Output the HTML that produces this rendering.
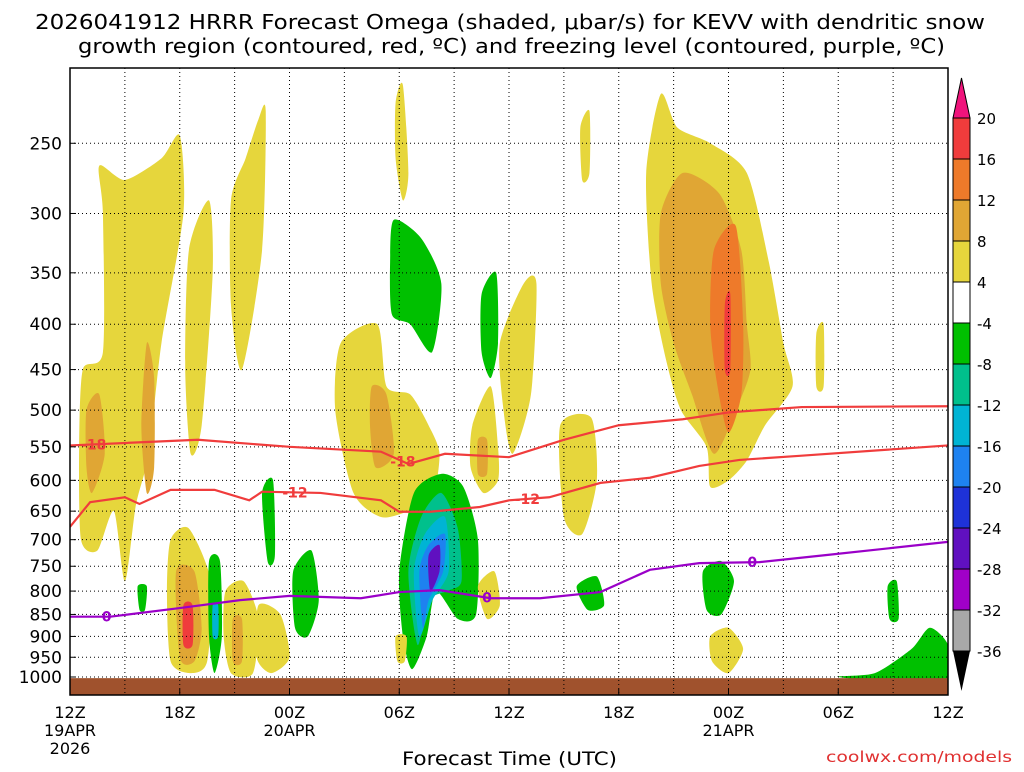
<!DOCTYPE html>
<html><head><meta charset="utf-8">
<style>
body{margin:0;background:#fff;width:1024px;height:768px;overflow:hidden;font-family:"DejaVu Sans",sans-serif}
svg text{font-family:"DejaVu Sans","Liberation Sans",sans-serif;fill:#000}
</style></head>
<body>
<svg id="chart" width="1024" height="768" xmlns="http://www.w3.org/2000/svg">
<text x="35" y="29" font-size="20" textLength="950" lengthAdjust="spacingAndGlyphs">2026041912 HRRR Forecast Omega (shaded, μbar/s) for KEVV with dendritic snow</text>
<text x="78" y="53" font-size="20" textLength="867" lengthAdjust="spacingAndGlyphs">growth region (contoured, red, ºC) and freezing level (contoured, purple, ºC)</text>
<g id="shapes"></g>
<g id="grid"></g>
<g id="lines"></g>
<g id="axes"></g>
<g id="cbar"></g>
<text x="402" y="765" font-size="19" textLength="215" lengthAdjust="spacingAndGlyphs">Forecast Time (UTC)</text>
<text x="826" y="762" font-size="15" textLength="186" lengthAdjust="spacingAndGlyphs" style="fill:#e03030">coolwx.com/models</text>
</svg>
<script>
const pLevels=[250,300,350,400,450,500,550,600,650,700,750,800,850,900,950,1000];
const xTickHours=[0,6,12,18,24,30,36,42,48];
const xTickLabels=["12Z","18Z","00Z","06Z","12Z","18Z","00Z","06Z","12Z"];
const xSubLabels=[[0,"19APR"],[0,"2026"],[12,"20APR"],[36,"21APR"]];
const cbLevels=[20,16,12,8,4,-4,-8,-12,-16,-20,-24,-28,-32,-36];
const cbColors=["#f03c3c","#ee7a2a","#e0a634","#e6d63c","#ffffff","#00c000","#00c08c","#00b4d4","#1e82f0","#1e32d8","#6010c0","#a000c8","#a8a8a8"];
const levelColor={y:"#e6d63c",o:"#e0a634",d:"#ee7a2a",r:"#f03c3c",g:"#00c000",t:"#00c08c",c:"#00b4d4",b:"#1e82f0",k:"#1e32d8",p:"#6010c0"};
const blobLevels=["y","o","o","y","y","y","o","r","y","o","g","c","g","g","g","y","y","o","y","g","g","t","c","b","p","y","y","o","g","y","y","y","y","g","y","o","d","r","y","g","y","g","g"];
const blobPts=[
[[1.6,265],[3,275],[5,260],[6,245],[6.2,300],[5,420],[4.3,560],[3.6,640],[3,780],[2.4,650],[1.5,720],[0.6,700],[0.5,550],[0.7,450],[1.8,430],[1.8,300]],
[[0.9,500],[1.6,480],[1.9,560],[1.2,620],[0.9,580]],
[[4.2,420],[4.6,460],[4.6,580],[4.2,620],[3.9,520]],
[[6.5,330],[7.6,290],[7.8,350],[7.2,520],[6.6,560],[6.3,450]],
[[8.8,290],[9.6,260],[10.3,235],[10.7,230],[10.5,330],[9.4,450],[8.8,380]],
[[5.5,700],[6.5,680],[7.7,780],[7.5,960],[6.6,990],[5.5,960],[5.3,800]],
[[5.8,760],[6.8,760],[7.2,880],[6.8,960],[6,950]],
[[6.2,830],[6.7,830],[6.7,920],[6.2,920]],
[[8.5,800],[9.5,780],[10.3,860],[10,990],[8.8,990],[8.4,900]],
[[8.9,860],[9.4,860],[9.4,960],[8.9,960]],
[[7.6,740],[8.2,740],[8.3,900],[7.9,990],[7.6,900]],
[[7.8,830],[8.1,830],[8.1,900],[7.8,900]],
[[3.7,790],[4.2,790],[4.1,840],[3.8,840]],
[[10.5,620],[11.1,600],[11.2,730],[10.8,740]],
[[12.2,760],[13.2,720],[13.6,820],[13,900],[12.3,880]],
[[10.3,830],[11.5,850],[12,950],[11,990],[10.2,950]],
[[14.8,420],[16.8,400],[17.3,470],[18.6,480],[19.6,520],[20.2,560],[19.8,630],[18.5,650],[17,660],[15.5,620],[14.5,500]],
[[16.5,470],[17.3,480],[17.7,560],[16.7,580],[16.4,520]],
[[17.8,225],[18.2,215],[18.5,270],[18.2,290],[17.8,260]],
[[17.7,305],[19.2,320],[20.3,360],[19.8,430],[18.6,400],[17.6,390],[17.5,340]],
[[18,760],[18.8,620],[20.3,590],[21.5,610],[22.3,700],[22.2,850],[21.2,860],[20,800],[19.5,900],[18.7,980],[18.2,900]],
[[18.5,760],[19.2,660],[20.3,620],[21.2,680],[21.4,780],[20.6,800],[19.6,820],[19,920]],
[[18.8,760],[19.4,690],[20.5,660],[20.7,760],[19.8,820],[19.1,900]],
[[19.1,760],[19.6,710],[20.5,690],[20.4,760],[19.6,820],[19.3,880]],
[[19.6,730],[20.2,710],[20.2,760],[19.7,800]],
[[17.8,900],[18.4,900],[18.3,960],[17.9,960]],
[[22,520],[23,470],[23.4,550],[23.4,600],[22.6,620],[21.9,580]],
[[22.3,540],[22.8,540],[22.8,590],[22.3,590]],
[[22.5,370],[23.3,350],[23.4,420],[23,460],[22.5,430]],
[[23.5,420],[24.8,360],[25.5,360],[25.2,480],[24.2,560],[23.7,500]],
[[22.3,790],[23.2,760],[23.5,830],[22.8,860]],
[[26.8,520],[28.5,510],[28.8,600],[28,690],[27,660]],
[[27.9,240],[28.4,230],[28.4,270],[28,275]],
[[27.7,790],[28.8,770],[29.2,830],[28.3,840]],
[[31.5,270],[32.3,220],[33.2,240],[35,250],[37,270],[38.2,340],[39,420],[39.5,470],[38,520],[37,570],[36,600],[35,610],[34.8,550],[33.4,500],[32.6,440],[31.8,360]],
[[32.3,300],[33.5,270],[35.5,285],[36.7,330],[37,400],[37.2,450],[36.4,500],[35.2,560],[34,480],[33,420],[32.3,360]],
[[35.2,330],[36.4,310],[36.8,400],[36.7,480],[36,530],[35.4,470],[35,400]],
[[35.8,380],[36.1,370],[36.1,450],[35.8,450]],
[[40.8,410],[41.2,400],[41.2,470],[40.8,470]],
[[34.6,760],[35.6,740],[36.3,780],[35.6,850],[34.8,840]],
[[35,900],[36,880],[36.8,930],[36,990],[35.1,960]],
[[44.7,790],[45.2,780],[45.3,860],[44.8,860]],
[[42,1000],[44,990],[46,930],[47,880],[48,920],[48,1010],[46.5,1020]]
];
const m18Hours=[0,7,12,17,18.5,20.5,24,27,30,33.5,36,40,48];
const m18P=[548,540,550,557,575,560,565,540,520,512,503,496,495];
const m12Hours=[0,1.1,3,3.8,5.5,7.9,9.8,10.5,13.7,17,18,19.7,22.4,24,26.2,29,31.7,34.4,36.6,39.9,48];
const m12P=[677,635,627,638,615,615,632,618,620,632,651,651,643,632,627,604,596,578,569,563,548];
const zHours=[0,2.2,6,9.3,12,15.9,18,20.2,23,25.7,29,31.7,34.4,37.7,41.5,48];
const zP=[855,855,836,819,810,815,802,798,815,815,802,757,744,742,728,704];

const L=70,R=948,T=68,B=695;
const xs=h=>L+h*(R-L)/48;
const ys=p=>677+385*Math.log(p/1000);
const NS="http://www.w3.org/2000/svg";
function mk(tag,parent,attrs){const e=document.createElementNS(NS,tag);for(const k in attrs)e.setAttribute(k,attrs[k]);parent.appendChild(e);return e;}
const gS=document.getElementById('shapes'),gG=document.getElementById('grid'),gL=document.getElementById('lines'),gA=document.getElementById('axes'),gC=document.getElementById('cbar');
const clip=mk('clipPath',document.getElementById('chart'),{id:'pc'});
mk('rect',clip,{x:L,y:T,width:R-L,height:B-T});
gS.setAttribute('clip-path','url(#pc)');gL.setAttribute('clip-path','url(#pc)');
function smooth(pts){let d="";const n=pts.length;for(let i=0;i<n;i++){const p0=pts[(i-1+n)%n],p1=pts[i],p2=pts[(i+1)%n],p3=pts[(i+2)%n];if(i==0)d+="M"+p1[0]+","+p1[1];const c1=[p1[0]+(p2[0]-p0[0])/8,p1[1]+(p2[1]-p0[1])/8],c2=[p2[0]-(p3[0]-p1[0])/8,p2[1]-(p3[1]-p1[1])/8];d+="C"+c1+" "+c2+" "+p2[0]+","+p2[1];}return d+"Z";}
blobPts.forEach((pts,i)=>{
 const el=mk('path',gS,{d:smooth(pts.map(q=>[xs(q[0]),ys(q[1])])),fill:levelColor[blobLevels[i]]});
 
 
});
const ground=mk('rect',gS,{x:L,y:ys(1003),width:R-L,height:B-ys(1003),fill:'#a0522d'});


pLevels.forEach(p=>{
 const ln=mk('line',gG,{x1:L,x2:R,y1:ys(p),y2:ys(p),stroke:'#000','stroke-width':1,'stroke-dasharray':'1,3'});
 
 
 const t=mk('text',gA,{x:62,y:ys(p)+6,'font-size':17,'text-anchor':'end'});t.textContent=p;
 
 
 mk('line',gA,{x1:L,x2:L+6,y1:ys(p),y2:ys(p),stroke:'#000'});
});
for(let h=3;h<48;h+=3){const ln=mk('line',gG,{x1:xs(h),x2:xs(h),y1:T,y2:B,stroke:'#000','stroke-dasharray':'1,3'});
 
 }
xTickHours.forEach((h,i)=>{
 const t=mk('text',gA,{x:xs(h),y:718,'font-size':16,'text-anchor':'middle'});t.textContent=xTickLabels[i];
 
 
 mk('line',gA,{x1:xs(h),x2:xs(h),y1:B,y2:B-6,stroke:'#000'});
});
xSubLabels.forEach((s,i)=>{const t=mk('text',gA,{x:xs(s[0]),y:i==1?754:736,'font-size':16,'text-anchor':'middle'});t.textContent=s[1];
 
 });
const frame=mk('rect',gA,{x:L,y:T,width:R-L,height:B-T,fill:'none',stroke:'#000','stroke-width':1.5});


function line(hs,ps,col,name,labs,lab){
 const d=hs.map((h,i)=>(i?"L":"M")+xs(h)+","+ys(ps[i])).join("");
 const el=mk('path',gL,{d:d,fill:'none',stroke:col,'stroke-width':2.2});
 
 
 labs.forEach(h=>{let j=0;while(j<hs.length-2&&hs[j+1]<h)j++;const f=(h-hs[j])/(hs[j+1]-hs[j]);const p=ps[j]+f*(ps[j+1]-ps[j]);
  const t=mk('text',gL,{x:xs(h),y:ys(p)+5,'font-size':14,'font-weight':'bold','text-anchor':'middle',style:'fill:'+col});t.textContent=lab;
  
  });
}
line(m18Hours,m18P,'#f03c3c','contour-minus18',[1.3,18.2],'-18');
line(m12Hours,m12P,'#f03c3c','contour-minus12',[12.3,25],'-12');
line(zHours,zP,'#9a00c8','freezing-level',[2,22.8,37.3],'0');
const cx=953,cw=17,top0=118,seg=41;
const tri1=mk('polygon',gC,{points:`${cx},${top0} ${cx+cw},${top0} ${cx+cw/2},78`,fill:'#f0147c',stroke:'#000'});


cbColors.forEach((c,i)=>{const r=mk('rect',gC,{x:cx,y:top0+i*seg,width:cw,height:seg,fill:c,stroke:'#000'});
 
 });
const yEnd=top0+cbColors.length*seg;
const tri2=mk('polygon',gC,{points:`${cx},${yEnd} ${cx+cw},${yEnd} ${cx+cw/2},${yEnd+40}`,fill:'#000'});


cbLevels.forEach((v,i)=>{const t=mk('text',gC,{x:977,y:top0+i*seg+6,'font-size':15});t.textContent=v;
 
 });
</script>
</body></html>
